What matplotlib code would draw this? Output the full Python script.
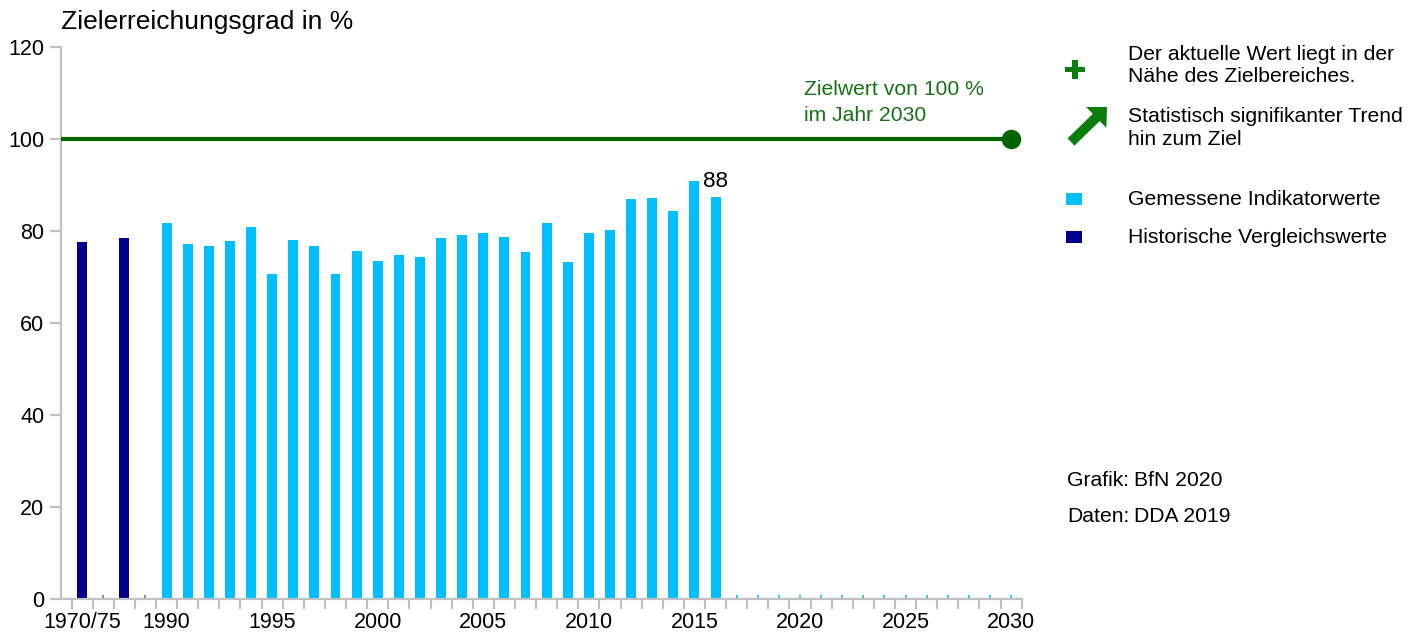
import matplotlib
matplotlib.use("Agg")
import matplotlib.pyplot as plt
from matplotlib.patches import Rectangle, FancyArrow
from matplotlib.ticker import FixedLocator

plt.rcParams['font.family'] = ['Liberation Sans', 'DejaVu Sans']

# ---------------- data ----------------
hist_years = ["1970", "1975"]
hist_values = [77.6, 78.5]

years = list(range(1990, 2031))
values = [81.7, 77.2, 76.8, 77.8, 80.9, 70.7, 78.0, 76.7, 70.7, 75.6,
          73.5, 74.8, 74.3, 78.5, 79.2, 79.6, 78.6, 75.4, 81.8, 73.3,
          79.6, 80.2, 87.0, 87.1, 84.3, 90.8, 87.5] + [None] * 14

tick_labels = ["1970/75", "1990", "1995", "2000", "2005", "2010", "2015",
               "2020", "2025", "2030"]
target_value = 100
target_year = 2030
label_year = 2016
label_text = "88"

# colours
c_meas = "#00BFFF"
c_hist = "#00008B"
c_hist_gap = "#7070d0"
c_green = "#006400"
c_green_txt = "#177117"
c_green_sym = "#0a7d0a"
c_spine = "#c0c0c0"

# ---------------- positions ----------------
hist_pos = [2 * i for i in range(len(hist_years))]          # 0, 2
hist_gap_pos = [2 * i + 1 for i in range(len(hist_years))]  # 1, 3
offset = 2 * len(hist_years)
year_pos = {y: offset + (y - years[0]) for y in years}

W, H = 1409, 633
fig = plt.figure(figsize=(W / 100, H / 100), dpi=100)
ax = fig.add_axes([61 / W, 34 / H, (1021.7 - 61) / W, (599 - 47) / H])

bw = 0.47
ax.bar(hist_pos, hist_values, width=bw, color=c_hist, zorder=2)
mx = [year_pos[y] for y, v in zip(years, values) if v is not None]
mv = [v for v in values if v is not None]
ax.bar(mx, mv, width=bw, color=c_meas, zorder=2)

# tiny markers for missing values
ax.vlines(hist_gap_pos, 0, 0.8, color=c_hist_gap, lw=1.2, zorder=2)
missing = [year_pos[y] for y, v in zip(years, values) if v is None]
ax.vlines(missing, 0, 0.8, color=c_meas, lw=1.2, zorder=2)

# target line
ax.plot([-1, year_pos[target_year]], [target_value, target_value],
        color=c_green, lw=3, zorder=3, solid_capstyle='butt', clip_on=False)
ax.plot([year_pos[target_year]], [target_value], 'o', color=c_green,
        ms=13, zorder=4, clip_on=False)

ax.text(year_pos[2020] + 0.18, 109.6, "Zielwert von 100 %", color=c_green_txt,
        fontsize=15.2, va='baseline', ha='left')
ax.text(year_pos[2020] + 0.18, 104.0, "im Jahr 2030", color=c_green_txt,
        fontsize=15.2, va='baseline', ha='left')

lv = values[years.index(label_year)]
ax.text(year_pos[label_year], lv + 2.1, label_text, fontsize=16.2,
        ha='center', va='baseline')

# axes styling
ax.set_xlim(-1, year_pos[years[-1]] + 0.5)
ax.set_ylim(0, 120)
ax.set_yticks([0, 20, 40, 60, 80, 100, 120])
for s in ['top', 'right']:
    ax.spines[s].set_visible(False)
for s in ['left', 'bottom']:
    ax.spines[s].set_color(c_spine)
    ax.spines[s].set_linewidth(1.6)
ax.tick_params(axis='y', length=8, width=1.6, color=c_spine, pad=4,
               labelsize=15.5)

label_pos = [0] + [year_pos[y] for y in range(1990, 2031, 5)]
ax.set_xticks(label_pos)
ax.set_xticklabels(tick_labels)
ax.tick_params(axis='x', which='major', length=0, pad=9.5, labelsize=15.5)
boundaries = [p - 0.5 for p in range(0, year_pos[years[-1]] + 2)]
ax.xaxis.set_minor_locator(FixedLocator(boundaries))
ax.tick_params(axis='x', which='minor', length=7.5, width=1.6, color=c_spine)

# title
fig.text(61 / W, 1 - 29 / H, "Zielerreichungsgrad in %", fontsize=19,
         ha='left', va='baseline')

# ---------------- right-hand legend (pixel overlay) ----------------
ov = fig.add_axes([0, 0, 1, 1], zorder=-1)
ov.set_xlim(0, W)
ov.set_ylim(H, 0)
ov.axis('off')

# plus sign
ov.add_patch(Rectangle((1065, 66.5), 20, 5.5, color=c_green_sym, lw=0))
ov.add_patch(Rectangle((1072.2, 59.5), 5.5, 19, color=c_green_sym, lw=0))
# arrow
ov.add_patch(FancyArrow(1071, 142, 36, -35, width=10, head_width=29,
                        head_length=15, length_includes_head=True,
                        color=c_green_sym, lw=0))
# squares
ov.add_patch(Rectangle((1066, 193), 16, 12, color=c_meas, lw=0))
ov.add_patch(Rectangle((1066, 231), 16, 12, color=c_hist, lw=0))

fs = 15.2
ov.text(1128, 59.5, "Der aktuelle Wert liegt in der", fontsize=fs, va='baseline')
ov.text(1128, 81.5, "Nähe des Zielbereiches.", fontsize=fs, va='baseline')
ov.text(1128, 122.5, "Statistisch signifikanter Trend", fontsize=fs, va='baseline')
ov.text(1128, 145, "hin zum Ziel", fontsize=fs, va='baseline')
ov.text(1128, 205, "Gemessene Indikatorwerte", fontsize=fs, va='baseline')
ov.text(1128, 243, "Historische Vergleichswerte", fontsize=fs, va='baseline')
ov.text(1067, 486, "Grafik:", fontsize=fs, va='baseline')
ov.text(1134, 486, "BfN 2020", fontsize=fs, va='baseline')
ov.text(1067, 522, "Daten:", fontsize=fs, va='baseline')
ov.text(1134, 522, "DDA 2019", fontsize=fs, va='baseline')

fig.savefig("out.png", dpi=100)
